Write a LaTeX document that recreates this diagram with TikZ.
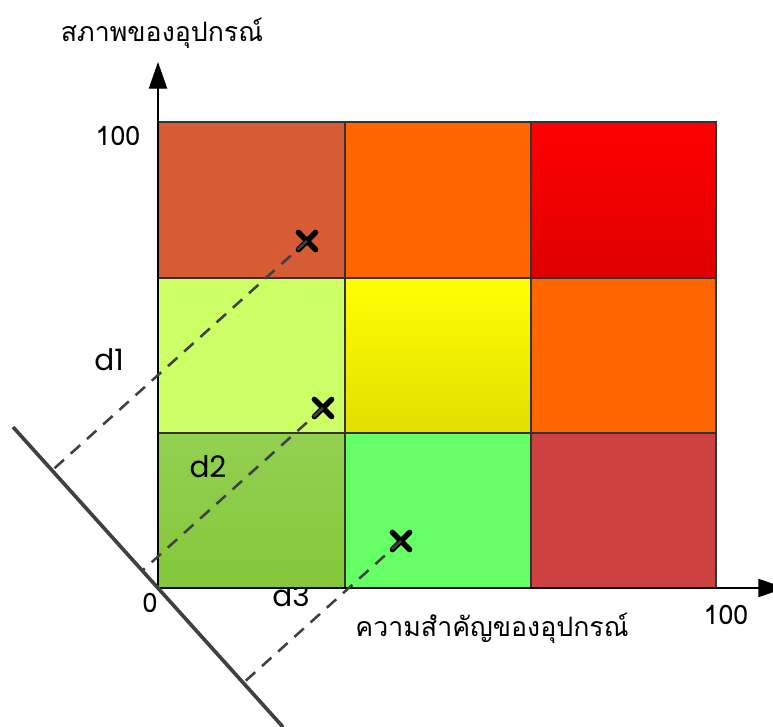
\documentclass[tikz,border=0pt]{standalone}
\usepackage{fontspec}
\usepackage{xcolor}
\usetikzlibrary{arrows.meta,calc,shapes.misc}
\newfontfamily\thaifont[Script=Thai]{Loma}
\setsansfont{Poppins}
\definecolor{cellbrick}{RGB}{215,92,54}
\definecolor{cellorange}{RGB}{255,102,0}
\definecolor{cellredtop}{RGB}{255,0,0}
\definecolor{cellredbot}{RGB}{222,0,0}
\definecolor{celllime}{RGB}{204,255,102}
\definecolor{cellyellowtop}{RGB}{255,255,0}
\definecolor{cellyellowbot}{RGB}{226,222,0}
\definecolor{cellolivetop}{RGB}{147,208,82}
\definecolor{cellolivebot}{RGB}{132,199,57}
\definecolor{cellgreen}{RGB}{102,255,102}
\definecolor{cellrose}{RGB}{206,65,65}
\definecolor{linegray}{RGB}{64,64,64}

\tikzset{
  gridline/.style={draw=black!80, line width=1.2pt},
  axisline/.style={draw=black, line width=1pt, -{Triangle[length=19pt,width=13pt]}},
  crossmark/.style={cross out, draw=black, line width=3.8pt, line cap=round, minimum size=8.5pt, inner sep=0pt},
  projline/.style={draw=linegray, line width=2.6pt},
  projdash/.style={draw=linegray, line width=1.8pt, dash pattern=on 9pt off 6.5pt},
  thailabel/.style={font=\thaifont\fontsize{19}{23}\selectfont, inner sep=0pt},
  dlabel/.style={font=\sffamily\fontsize{21}{24}\selectfont, inner sep=0pt}
}

\begin{document}
\begin{tikzpicture}[x=0.025cm,y=-0.025cm]
\useasboundingbox (0,0) rectangle (773,727);

% label under the grid edge
\node[dlabel] (d3) at (291,596) {d3};

% cells
\fill[cellbrick] (158,122) rectangle (345,278);
\fill[cellorange] (345,122) rectangle (531,278);
\shade[top color=cellredtop, bottom color=cellredbot] (531,122) rectangle (716,278);
\fill[celllime] (158,278) rectangle (345,433);
\shade[top color=cellyellowtop, bottom color=cellyellowbot] (345,278) rectangle (531,433);
\fill[cellorange] (531,278) rectangle (716,433);
\shade[top color=cellolivetop, bottom color=cellolivebot] (158,433) rectangle (345,588);
\fill[cellgreen] (345,433) rectangle (531,588);
\fill[cellrose] (531,433) rectangle (716,588);

\draw[gridline] (158,122) rectangle (716,588);
\draw[gridline] (345,122) -- (345,588);
\draw[gridline] (531,122) -- (531,588);
\draw[gridline] (158,278) -- (716,278);
\draw[gridline] (158,433) -- (716,433);

% axes
\coordinate (origin) at (158,588);
\coordinate (ytip) at (158,62);
\coordinate (xtip) at (785,588);
\draw[axisline] (origin) -- (ytip);
\draw[axisline] (origin) -- (xtip);

\node[thailabel, anchor=base] (ytitle) at (162,42) {สภาพของอุปกรณ์};
\node[thailabel, anchor=base] (xtitle) at (492,636) {ความสำคัญของอุปกรณ์};
\node[thailabel] (ymax) at (118,136) {100};
\node[thailabel] (xmax) at (726,615) {100};
\node[thailabel] (zero) at (150,603) {0};

% points
\node[crossmark] (p1) at (307,241) {};
\node[crossmark] (p2) at (323,408) {};
\node[crossmark] (p3) at (401,541) {};

% projection line
\coordinate (lineA) at (13,427);
\coordinate (lineB) at (283,727);
\draw[projline] (lineA) -- (lineB);

\coordinate (f1) at ($(lineA)!(p1)!(lineB)$);
\coordinate (f2) at ($(lineA)!(p2)!(lineB)$);
\coordinate (f3) at ($(lineA)!(p3)!(lineB)$);
\draw[projdash] (p1.center) -- (f1);
\draw[projdash] (p2.center) -- (f2);
\draw[projdash] (p3.center) -- (f3);

\node[dlabel] (d1) at (109,360) {d1};
\node[dlabel] (d2) at (208,467) {d2};

\end{tikzpicture}
\end{document}
